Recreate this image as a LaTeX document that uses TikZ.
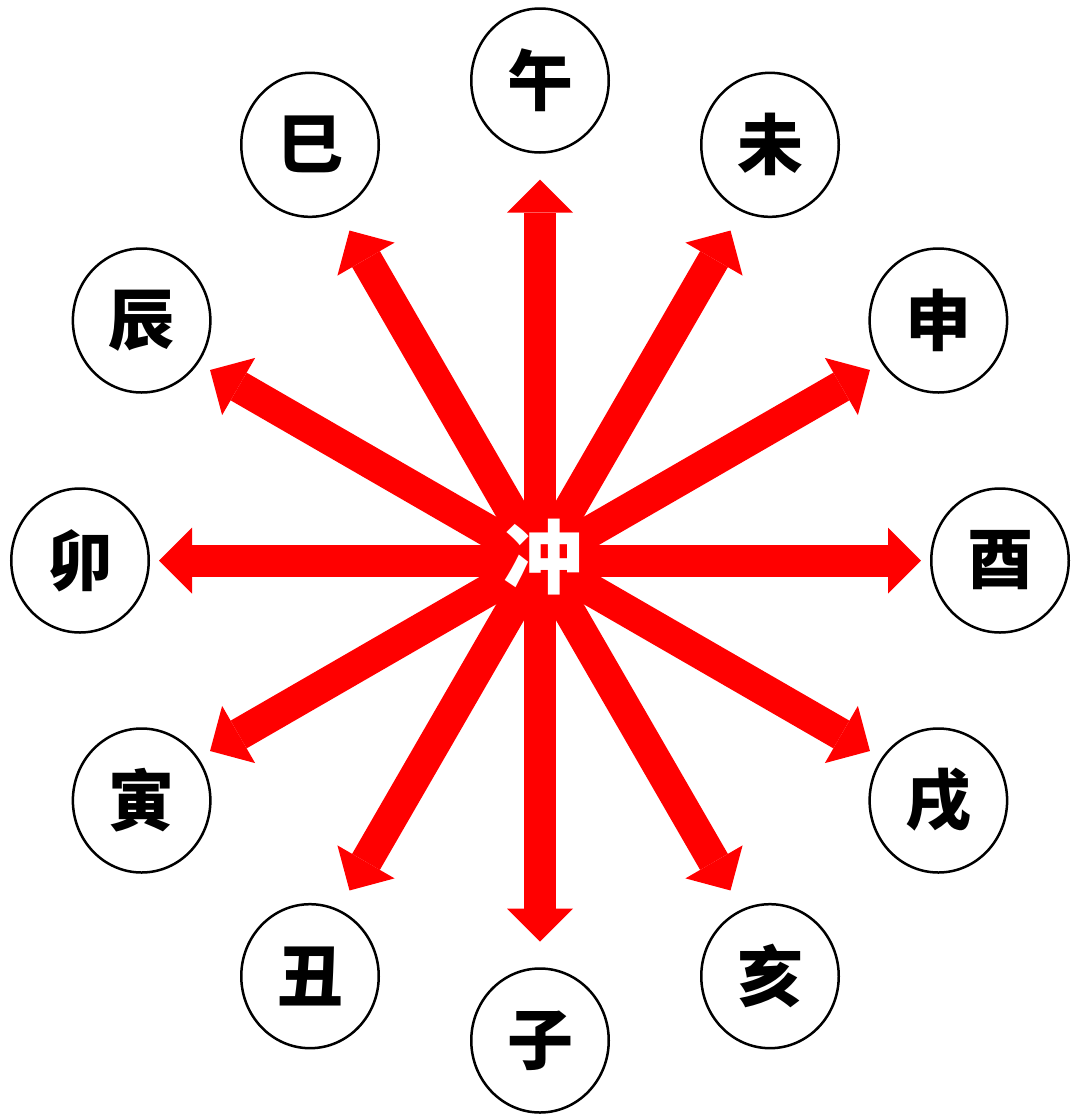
\documentclass[tikz,border=0pt]{standalone}
\usepackage{fontspec}
\newfontfamily\cjk{Noto Sans CJK SC}
\usetikzlibrary{arrows.meta,shapes.geometric}
\begin{document}
\begin{tikzpicture}[x=1pt,y=1pt,
  branch/.style={draw=black, line width=2.5pt, ellipse, minimum width=137.5pt, minimum height=144pt, inner sep=0pt, font=\cjk\bfseries\fontsize{66}{66}\selectfont},
  clashtip/.tip={Triangle[width=66pt,length=33pt,line width=0pt]},
  clash/.style={draw=red, line width=32pt, clashtip-clashtip}]
\useasboundingbox (0,0) rectangle (1080,-1120);
\coordinate (O) at (540,-560.5);
% double arrows
\foreach \a/\i in {90/1,60/2,30/3,0/4,-30/5,-60/6}{
  \coordinate (p\i) at ({540+381*cos(\a)},{-560.5+381*sin(\a)});
  \coordinate (q\i) at ({540-381*cos(\a)},{-560.5-381*sin(\a)});
  \draw[clash] (q\i) -- (p\i);
}
% branches
\foreach \a/\t/\n in {90/午/wu,60/未/wei,30/申/shen,0/酉/you,-30/戌/xu,-60/亥/hai,-90/子/zi,-120/丑/chou,-150/寅/yin,180/卯/mao,150/辰/chen,120/巳/si}{
  \node[branch] (\n) at ({540+460*cos(\a)},{-560.5+480*sin(\a)}) {\t};
}
\node[text=white, inner sep=0pt, font=\cjk\bfseries\fontsize{80}{80}\selectfont] (c) at (543,-557.5) {冲};
\end{tikzpicture}
\end{document}
